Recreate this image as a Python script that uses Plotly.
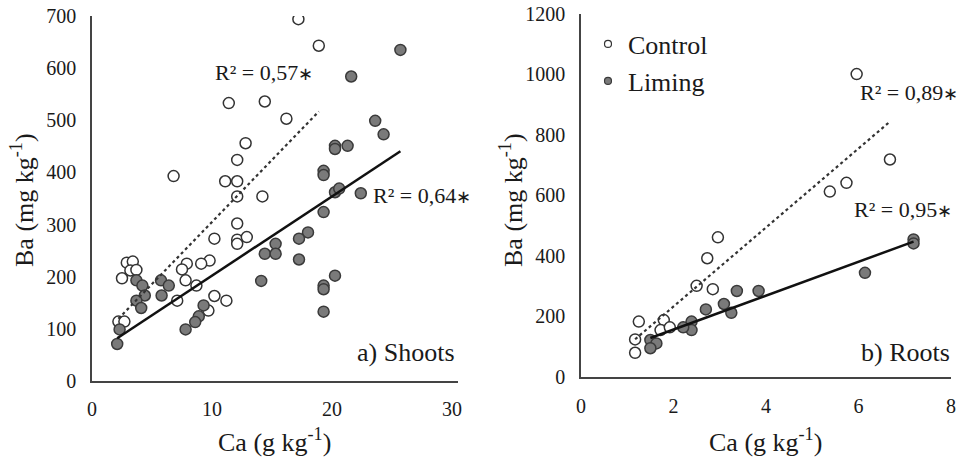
import plotly.graph_objects as go

# ---------------- data ----------------
shoots_ctrl_x = [17.2, 18.9, 11.4, 14.4, 16.2, 12.8, 12.1, 6.8, 11.1, 12.1, 12.1, 14.2, 12.1, 10.2, 12.1, 12.1,
                 12.9, 9.8, 9.1, 7.9, 7.5, 7.8, 8.7, 7.1, 10.2, 11.2, 9.7, 2.9, 3.4, 3.2, 3.7, 2.5, 2.2, 2.7]
shoots_ctrl_y = [694, 643, 533, 536, 503, 456, 424, 393, 383, 383, 354, 354, 302, 273, 271, 263,
                 276, 231, 225, 225, 214, 193, 183, 154, 163, 154, 135, 227, 229, 212, 213, 197, 114, 114]

shoots_lim_x = [25.7, 21.6, 23.6, 24.3, 20.25, 20.25, 21.3, 19.3, 19.3, 20.25, 20.6, 22.4, 19.3, 18.0, 17.25,
                17.25, 15.3, 14.4, 15.3, 14.1, 20.25, 19.3, 19.3, 19.3, 3.7, 4.2, 4.4, 3.7, 4.1, 5.75, 6.4,
                5.8, 2.3, 2.1, 9.3, 8.9, 8.6, 7.8]
shoots_lim_y = [635, 584, 499, 473, 451, 445, 451, 403, 395, 362, 369, 360, 324, 285, 273,
                233, 263, 244, 244, 192, 202, 183, 176, 133, 193, 183, 164, 154, 140, 193, 183,
                164, 99, 71, 145, 124, 113, 99]

roots_ctrl_x = [5.96, 6.68, 5.74, 5.38, 2.96, 2.73, 2.5, 2.85, 1.25, 1.17, 1.17, 1.79, 1.72, 1.92]
roots_ctrl_y = [1000, 718, 641, 612, 461, 392, 301, 290, 183, 124, 80, 188, 155, 164]

roots_lim_x = [7.19, 7.19, 6.14, 3.37, 3.84, 2.7, 3.09, 3.25, 2.39, 2.39, 2.21, 1.5, 1.63, 1.5]
roots_lim_y = [454, 441, 344, 284, 284, 223, 241, 212, 183, 155, 164, 122, 111, 95]

# linear fits (slope, intercept)
shoots_ctrl_fit = (23.8, 67)
shoots_lim_fit = (15.2, 50)
roots_ctrl_fit = (130.4, -28)
roots_lim_fit = (55.9, 45)

r2_values = ["0,57", "0,64", "0,89", "0,95"]
panel_labels = ["a) Shoots", "b) Roots"]
series_names = ["Control", "Liming"]

shoots_xticks = [0, 10, 20, 30]
shoots_yticks = [0, 100, 200, 300, 400, 500, 600, 700]
roots_xticks = [0, 2, 4, 6, 8]
roots_yticks = [0, 200, 400, 600, 800, 1000, 1200]

# ---------------- styling ----------------
W, H = 960, 459
FONT = "Liberation Serif"
TXT = "#1a1a1a"
AXC = "#444444"
open_marker = dict(symbol="circle", size=11, color="white", line=dict(color="#333333", width=1.5))
fill_marker = dict(symbol="circle", size=11, color="#7a7a7a", line=dict(color="#3a3a3a", width=1.5))


def px(x):
    return x / W


def py(y):
    return 1 - y / H


fig = go.Figure()


def fit_line(xs, fit):
    lo, hi = min(xs), max(xs)
    return [lo, hi], [fit[0] * lo + fit[1], fit[0] * hi + fit[1]]


# shoots panel
fig.add_trace(go.Scatter(x=shoots_ctrl_x, y=shoots_ctrl_y, mode="markers", marker=open_marker,
                         showlegend=False, xaxis="x", yaxis="y"))
fig.add_trace(go.Scatter(x=shoots_lim_x, y=shoots_lim_y, mode="markers", marker=fill_marker,
                         showlegend=False, xaxis="x", yaxis="y"))
lx, ly = fit_line(shoots_ctrl_x, shoots_ctrl_fit)
fig.add_trace(go.Scatter(x=lx, y=ly, mode="lines", line=dict(color="#333333", width=2.2, dash="dot"),
                         showlegend=False, xaxis="x", yaxis="y"))
lx, ly = fit_line(shoots_lim_x, shoots_lim_fit)
fig.add_trace(go.Scatter(x=lx, y=ly, mode="lines", line=dict(color="#111111", width=2.5),
                         showlegend=False, xaxis="x", yaxis="y"))

# roots panel
fig.add_trace(go.Scatter(x=roots_ctrl_x, y=roots_ctrl_y, mode="markers", marker=open_marker,
                         showlegend=False, xaxis="x2", yaxis="y2"))
fig.add_trace(go.Scatter(x=roots_lim_x, y=roots_lim_y, mode="markers", marker=fill_marker,
                         showlegend=False, xaxis="x2", yaxis="y2"))
lx, ly = fit_line(roots_ctrl_x, roots_ctrl_fit)
fig.add_trace(go.Scatter(x=lx, y=ly, mode="lines", line=dict(color="#333333", width=2.2, dash="dot"),
                         showlegend=False, xaxis="x2", yaxis="y2"))
lx, ly = fit_line(roots_lim_x, roots_lim_fit)
fig.add_trace(go.Scatter(x=lx, y=ly, mode="lines", line=dict(color="#111111", width=2.5),
                         showlegend=False, xaxis="x2", yaxis="y2"))

# legend-only entries
fig.add_trace(go.Scatter(x=[None], y=[None], mode="markers", name=series_names[0],
                         marker=dict(symbol="circle", size=7, color="white", line=dict(color="#333333", width=1.2)),
                         legend="legend", xaxis="x2", yaxis="y2"))
fig.add_trace(go.Scatter(x=[None], y=[None], mode="markers", name=series_names[1],
                         marker=dict(symbol="circle", size=7, color="#7a7a7a", line=dict(color="#3a3a3a", width=1.2)),
                         legend="legend2", xaxis="x2", yaxis="y2"))

tickfont = dict(family=FONT, size=20, color=TXT)
axis_common = dict(showgrid=False, zeroline=False, showline=True, linecolor=AXC, linewidth=1.5,
                   ticks="", tickfont=tickfont, fixedrange=True, automargin=False,
                   ticklabeloverflow="allow")

fig.update_layout(
    width=W, height=H,
    margin=dict(l=0, r=0, t=0, b=0, pad=0, autoexpand=False),
    paper_bgcolor="white", plot_bgcolor="white",
    font=dict(family=FONT, color=TXT),
    xaxis=dict(domain=[px(92), px(458)], range=[0, 30.5], tickvals=shoots_xticks, anchor="y",
               ticklabelstandoff=9, **axis_common),
    yaxis=dict(domain=[py(381), py(16)], range=[0, 700], tickvals=shoots_yticks, anchor="x",
               ticklabelstandoff=10, **axis_common),
    xaxis2=dict(domain=[px(581), px(951)], range=[0, 8.0], tickvals=roots_xticks, anchor="y2",
                ticklabelstandoff=10, **axis_common),
    yaxis2=dict(domain=[py(377), py(13.5)], range=[0, 1200], tickvals=roots_yticks, anchor="x2",
                ticklabelstandoff=10, **axis_common),
    legend=dict(x=px(588), y=py(44), xanchor="left", yanchor="middle", bgcolor="rgba(0,0,0,0)",
                font=dict(family=FONT, size=26, color=TXT), borderwidth=0),
    legend2=dict(x=px(588), y=py(81), xanchor="left", yanchor="middle", bgcolor="rgba(0,0,0,0)",
                 font=dict(family=FONT, size=26, color=TXT), borderwidth=0),
)

r2_font = dict(family=FONT, size=22, color=TXT)
r2_pos = [(213, 72), (371, 195), (858, 93), (852, 210)]
for (x, y), v in zip(r2_pos, r2_values):
    fig.add_annotation(x=px(x), y=py(y), xref="paper", yref="paper",
                       text="R² = " + v + '<span style="font-size:18px">∗</span>', showarrow=False,
                       xanchor="left", yanchor="middle", font=r2_font)

panel_font = dict(family=FONT, size=26, color=TXT)
for (x, y), t in zip([(457, 352), (952, 352)], panel_labels):
    fig.add_annotation(x=px(x), y=py(y), xref="paper", yref="paper", text=t, showarrow=False,
                       xanchor="right", yanchor="middle", font=panel_font)

title_font = dict(family=FONT, size=26, color=TXT)
for x, y in [(274, 440), (765, 440)]:
    fig.add_annotation(x=px(x), y=py(y), xref="paper", yref="paper", text="Ca (g kg<sup>-1</sup>)",
                       showarrow=False, xanchor="center", yanchor="middle", font=title_font)
for x, y in [(22, 200), (511, 200)]:
    fig.add_annotation(x=px(x), y=py(y), xref="paper", yref="paper", text="Ba (mg kg<sup>-1</sup>)",
                       showarrow=False, xanchor="center", yanchor="middle", textangle=-90, font=title_font)

fig.write_html("out.html", config={"displayModeBar": False},
               post_script="document.body.style.margin='0';document.body.style.overflow='hidden';")
